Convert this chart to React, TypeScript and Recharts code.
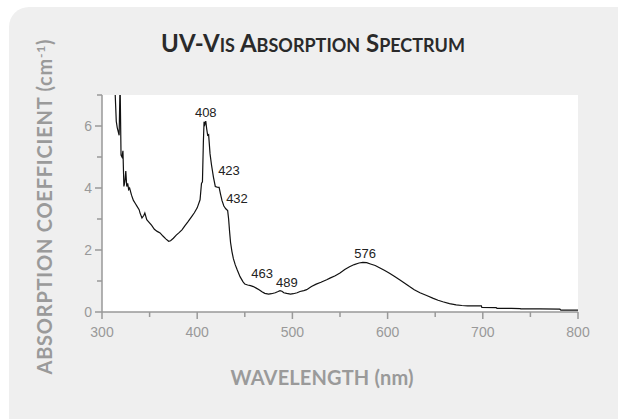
import { LineChart, Line, XAxis, YAxis, CartesianGrid, ReferenceDot } from 'recharts';

// spectrum (nm, cm^-1)
const wavelengths = [
  313.5, 315, 316, 318, 319, 320, 321, 322, 323, 324, 325, 326, 327, 328, 329, 331, 333, 335, 337, 339,
  340, 342, 344, 345, 347, 349, 352, 355, 358, 361, 364, 367, 370, 372, 375, 378, 381, 384, 387, 390,
  394, 397, 400, 403, 404.5, 405.5, 406.5, 407.2, 408, 409, 410, 411, 412, 413.5, 415, 417, 419, 421, 423, 424.5,
  426, 428, 430, 432, 433, 434, 435, 436.5, 438, 440, 442, 445, 448, 450, 453, 456, 459, 462, 465, 468,
  471, 475, 478, 482, 485, 487, 489, 491, 494, 498, 501, 505, 508, 512, 515, 520, 525, 530, 536, 540,
  545, 550, 555, 560, 565, 570, 574, 578, 582, 587, 592, 597, 602, 607, 613, 618, 623, 628, 634, 641,
  648, 653, 658, 665, 672, 678, 684, 690, 698.5, 699, 714, 715, 730, 739, 740, 760, 781, 782, 800,
];
const absorption = [
  7.3, 6.15, 5.95, 5.7, 7.4, 5.06, 5.0, 5.2, 4.05, 4.2, 4.55, 4.05, 4.15, 3.95, 4.0, 3.77, 3.6, 3.5, 3.4, 3.3,
  3.19, 3.03, 3.12, 3.19, 2.98, 2.91, 2.8, 2.67, 2.6, 2.55, 2.45, 2.36, 2.28, 2.3, 2.38, 2.48, 2.56, 2.65, 2.78, 2.9,
  3.07, 3.2, 3.36, 3.62, 4.15, 4.2, 5.5, 6.14, 6.05, 6.16, 5.9, 5.7, 5.72, 5.1, 4.75, 4.36, 4.05, 4.03, 4.02, 3.8,
  3.6, 3.42, 3.33, 3.27, 3.0, 2.6, 2.25, 1.95, 1.72, 1.52, 1.36, 1.14, 0.98, 0.9, 0.87, 0.85, 0.82, 0.77, 0.72, 0.65,
  0.6, 0.58, 0.59, 0.62, 0.66, 0.69, 0.67, 0.62, 0.6, 0.58, 0.59, 0.62, 0.66, 0.69, 0.72, 0.82, 0.9, 0.96, 1.04, 1.1,
  1.17, 1.26, 1.37, 1.46, 1.53, 1.58, 1.6, 1.59, 1.55, 1.5, 1.42, 1.34, 1.25, 1.15, 1.03, 0.93, 0.82, 0.72, 0.62, 0.53,
  0.44, 0.38, 0.33, 0.27, 0.23, 0.21, 0.2, 0.2, 0.2, 0.15, 0.14, 0.12, 0.12, 0.11, 0.1, 0.1, 0.09, 0.06, 0.06,
];

const xTicks = [300, 350, 400, 450, 500, 550, 600, 650, 700, 750, 800];
const yTicks = [0, 1, 2, 3, 4, 5, 6, 7];

// peak annotations: text and where its centre sits (nm, cm^-1)
const peakLabels = ['408', '423', '432', '463', '489', '576'];
const peakLabelNm = [409, 433.4, 441.8, 468.1, 494.3, 576.3];
const peakLabelAbs = [6.46, 4.58, 3.68, 1.26, 0.97, 1.9];

const data = wavelengths.map((nm, i) => ({ nm, abs: absorption[i] }));

const AXIS = '#999999';
const TICK_FONT = '"Liberation Sans", Arial, sans-serif';
const LABEL_FONT = 'Lato, "Open Sans", sans-serif';

function XTick({ x, y, payload }: any) {
  const v = payload.value;
  const major = v % 100 === 0;
  return (
    <g>
      <line x1={x} x2={x} y1={y} y2={y + (major ? 7 : 5)} stroke={AXIS} strokeWidth={1.5} />
      {major && (
        <text x={x} y={y + 25} textAnchor="middle" fill={AXIS} fontSize={14} fontFamily={TICK_FONT}>
          {v}
        </text>
      )}
    </g>
  );
}

function YTick({ x, y, payload }: any) {
  const v = payload.value;
  const major = v % 2 === 0;
  return (
    <g>
      <line x1={x - (major ? 7 : 5)} x2={x} y1={y} y2={y} stroke={AXIS} strokeWidth={1.5} />
      {major && (
        <text x={x - 10} y={y + 5} textAnchor="end" fill={AXIS} fontSize={14} fontFamily={TICK_FONT}>
          {v}
        </text>
      )}
    </g>
  );
}

export default function App() {
  return (
    <div style={{ position: 'fixed', left: 0, top: 0, width: 618, height: 419, overflow: 'hidden', background: '#fff' }}>
      <div style={{ position: 'absolute', left: 9, top: 7, width: 640, height: 440, borderRadius: 20, background: '#efefef' }} />
      <div style={{ position: 'absolute', left: 0, top: 0 }}>
        <LineChart width={618} height={419} data={data} margin={{ top: 95, right: 40, bottom: 0, left: 0 }}>
          <CartesianGrid horizontal={false} vertical={false} fill="#fff" stroke="none" />
          <XAxis
            dataKey="nm"
            type="number"
            domain={[300, 800]}
            ticks={xTicks}
            height={107}
            tickSize={0}
            tickMargin={0}
            tickLine={false}
            axisLine={{ stroke: AXIS, strokeWidth: 1.5 }}
            tick={<XTick />}
            interval={0}
          />
          <YAxis
            type="number"
            domain={[0, 7]}
            allowDataOverflow
            ticks={yTicks}
            width={102}
            tickSize={0}
            tickMargin={0}
            tickLine={false}
            axisLine={{ stroke: AXIS, strokeWidth: 1.5 }}
            tick={<YTick />}
            interval={0}
          />
          <Line
            dataKey="abs"
            type="linear"
            stroke="#111"
            strokeWidth={1.2}
            dot={false}
            isAnimationActive={false}
          />
          {peakLabels.map((t, i) => (
            <ReferenceDot
              key={t}
              x={peakLabelNm[i]}
              y={peakLabelAbs[i]}
              r={0}
              shape={(p: any) => (
                <text x={p.cx} y={p.cy + 5} textAnchor="middle" fill="#222" fontSize={13} fontFamily={TICK_FONT}>
                  {t}
                </text>
              )}
            />
          ))}
        </LineChart>
      </div>
      <svg width={618} height={419} style={{ position: 'absolute', left: 0, top: 0, pointerEvents: 'none' }}>
        <text x={313} y={52} textAnchor="middle" fill="#2a2a2a" fontFamily={LABEL_FONT} fontWeight={700}>
          <tspan fontSize={24}>UV-V</tspan>
          <tspan fontSize={18}>IS</tspan>
          <tspan fontSize={24}> A</tspan>
          <tspan fontSize={18}>BSORPTION</tspan>
          <tspan fontSize={24}> S</tspan>
          <tspan fontSize={18}>PECTRUM</tspan>
        </text>
        <text
          x={322}
          y={385}
          textAnchor="middle"
          fill="#9a9a9a"
          fontFamily={LABEL_FONT}
          fontWeight={700}
          fontSize={20}
          textLength={183}
          lengthAdjust="spacing"
        >
          WAVELENGTH (nm)
        </text>
        <text
          transform="translate(52, 207) rotate(-90)"
          textAnchor="middle"
          fill="#9a9a9a"
          fontFamily={LABEL_FONT}
          fontWeight={700}
          fontSize={20}
          textLength={335}
          lengthAdjust="spacing"
        >
          ABSORPTION COEFFICIENT (cm<tspan fontSize={12} dy={-7}>-1</tspan><tspan dy={7}>)</tspan>
        </text>
      </svg>
    </div>
  );
}
